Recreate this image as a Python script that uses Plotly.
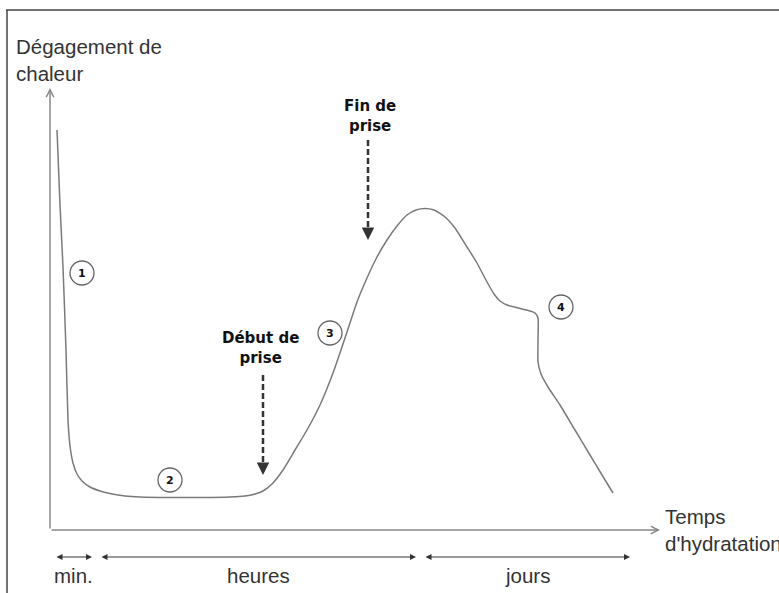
import plotly.graph_objects as go

# Schematic heat-release curve (arbitrary units)
temps = [7, 10, 13, 16, 18, 20, 23, 27, 32, 40, 50, 62, 75, 90, 120, 150, 180, 195, 205, 213,
         222, 233, 245, 257, 270, 283, 297, 307, 317, 327, 337, 347, 357, 366, 375, 384, 395,
         405, 417, 427, 437, 444, 450, 457, 468, 480, 485, 488, 488, 488, 491, 498, 510, 525,
         540, 552, 563]
chaleur = [400, 325, 263, 180, 110, 84, 67, 56, 49, 43, 39, 36, 34, 33, 32.5, 32.5, 33, 34, 36, 39,
           46, 60, 80, 100, 125, 157, 198, 228, 252, 273, 290, 304, 315, 320, 321.5, 320, 313,
           302, 283, 267, 248, 236, 229, 225, 222, 219, 217, 212, 190, 168, 156, 143, 125, 100,
           75, 55, 37]

phases = ["1", "2", "3", "4"]
phase_t = [32, 120, 280, 511]
phase_h = [257, 50, 197, 223]

periodes = ["min.", "heures", "jours"]
periode_debut = [5, 50, 374]
periode_fin = [42, 366, 580]

evenements = ["Début de<br>prise", "Fin de<br>prise"]
evenement_t = [213, 318]
evenement_haut = [155, 390]
evenement_bas = [55, 290]
evenement_label_t = [210, 320]
evenement_label_h = [182, 414]

GRAY = "#7a7a7a"
DARK = "#333333"

fig = go.Figure()
fig.add_trace(go.Scatter(x=temps, y=chaleur, mode="lines",
                         line=dict(color=GRAY, width=1.5, shape="spline", smoothing=0.5),
                         hoverinfo="skip", showlegend=False))

shapes = []
annotations = []

# frame (top and left edges)
shapes.append(dict(type="line", x0=-44, x1=729, y0=520, y1=520, line=dict(color="#444", width=1.5)))
shapes.append(dict(type="line", x0=-43, x1=-43, y0=520, y1=-63, line=dict(color="#444", width=1.5)))

# axes with arrows
annotations.append(dict(x=0, y=442, ax=0, ay=0, xref="x", yref="y", axref="x", ayref="y",
                        text="", showarrow=True, arrowhead=5, arrowsize=1, arrowwidth=1.5,
                        arrowcolor="#888"))
annotations.append(dict(x=610, y=0, ax=0, ay=0, xref="x", yref="y", axref="x", ayref="y",
                        text="", showarrow=True, arrowhead=5, arrowsize=1, arrowwidth=1.5,
                        arrowcolor="#888"))

# axis titles
annotations.append(dict(x=-36, y=470, xref="x", yref="y", text="Dégagement de<br>chaleur",
                        showarrow=False, xanchor="left", yanchor="middle", align="left",
                        font=dict(family="Liberation Sans", size=20.5, color=DARK)))
annotations.append(dict(x=613, y=0, xref="x", yref="y", text="Temps<br>d'hydratation",
                        showarrow=False, xanchor="left", yanchor="middle", align="left",
                        font=dict(family="Liberation Sans", size=20.5, color=DARK)))

# phase circles
for lab, t, h in zip(phases, phase_t, phase_h):
    shapes.append(dict(type="circle", x0=t - 12, x1=t + 12, y0=h - 12, y1=h + 12,
                       line=dict(color="#666", width=1.3)))
    annotations.append(dict(x=t, y=h, xref="x", yref="y", text="<b>" + lab + "</b>",
                            showarrow=False,
                            font=dict(family="DejaVu Sans", size=11, color="#111"),
                            xanchor="center", yanchor="middle"))

# setting events: dashed arrows + labels
for lab, t, h0, h1, lt, lh in zip(evenements, evenement_t, evenement_haut, evenement_bas,
                                  evenement_label_t, evenement_label_h):
    shapes.append(dict(type="line", x0=t, x1=t, y0=h0, y1=h1 + 6,
                       line=dict(color=DARK, width=2.5, dash="6px,3px")))
    annotations.append(dict(x=t, y=h1, ax=t, ay=h1 + 8, xref="x", yref="y", axref="x", ayref="y",
                            text="", showarrow=True, arrowhead=2, arrowsize=1, arrowwidth=2.5,
                            arrowcolor=DARK))
    annotations.append(dict(x=lt, y=lh, xref="x", yref="y", text="<b>" + lab + "</b>",
                            showarrow=False, xanchor="center", yanchor="middle",
                            font=dict(family="DejaVu Sans", size=15, color="#111")))

# time periods
for lab, a, b in zip(periodes, periode_debut, periode_fin):
    annotations.append(dict(x=b, y=-27, ax=a, ay=-27, xref="x", yref="y", axref="x", ayref="y",
                            text="", showarrow=True, arrowhead=2, startarrowhead=2,
                            arrowside="end+start", arrowsize=1, startarrowsize=1,
                            arrowwidth=1.2, arrowcolor=DARK))
    annotations.append(dict(x=(a + b) / 2, y=-45, xref="x", yref="y", text=lab, showarrow=False,
                            xanchor="center", yanchor="middle",
                            font=dict(family="Liberation Sans", size=20.5, color=DARK)))

fig.update_layout(
    width=779, height=593, autosize=False,
    margin=dict(l=0, r=0, t=0, b=0),
    paper_bgcolor="white", plot_bgcolor="white",
    xaxis=dict(range=[-50, 729], visible=False, fixedrange=True),
    yaxis=dict(range=[-63, 530], visible=False, fixedrange=True),
    shapes=shapes, annotations=annotations, showlegend=False,
)

fig.write_html("out.html", config={"displayModeBar": False},
               post_script="document.body.style.margin='0';document.body.style.overflow='hidden';")
